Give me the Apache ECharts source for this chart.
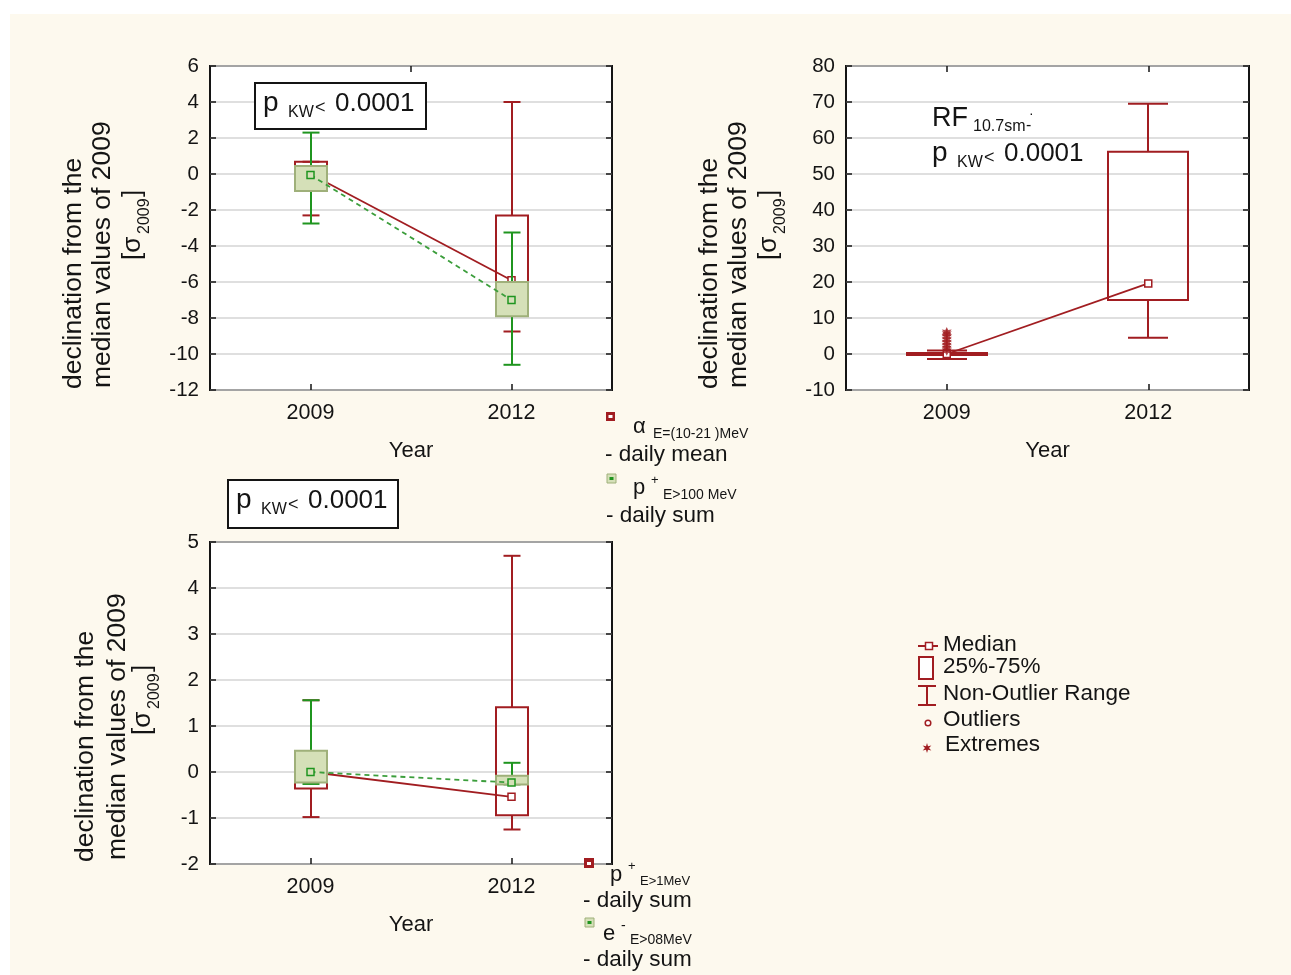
<!DOCTYPE html>
<html><head><meta charset="utf-8">
<script src="https://cdn.jsdelivr.net/npm/echarts@6/dist/echarts.min.js"></script>
<style>
html,body{margin:0;padding:0;background:#fff;}
#panel{position:absolute;left:10px;top:14px;width:1281px;height:961px;background:#fdf9ee;}
#chart{position:absolute;left:0;top:0;width:1291px;height:975px;}
</style>
</head><body><div id="panel"></div><div id="chart"></div>
<script>
// ---------------- data ----------------
const years = ['2009', '2012'];
// box statistics per year: [lower whisker, Q1 (25%), median, Q3 (75%), upper whisker]
const alphaDailyMean      = [[-2.3, -0.85, 0, 0.68, 0.68], [-8.75, -6.0, -5.9, -2.3, 4.0]];
const protonE100DailySum  = [[-2.75, -0.95, -0.05, 0.45, 2.3], [-10.6, -7.9, -7.0, -6.0, -3.25]];
const rf107               = [[-1.4, -0.3, 0, 0.3, 1.0], [4.5, 15.0, 19.6, 56.2, 69.5]];
const rfExtremes2009      = [0.9, 1.6, 2.4, 3.2, 4.0, 4.8, 5.6, 6.1];
const protonE1DailySum    = [[-0.98, -0.36, 0, 0.4, 1.56], [-1.25, -0.94, -0.54, 1.41, 4.7]];
const electronDailySum    = [[-0.26, -0.23, 0, 0.46, 1.56], [-0.27, -0.27, -0.23, -0.08, 0.2]];
// y-axis ranges: [min, max, interval]
const axisTL = [-12, 6, 2];
const axisTR = [-10, 80, 10];
const axisBL = [-2, 5, 1];

// ---------------- style ----------------
const FONT = "'Liberation Sans', Arial, sans-serif";
const INK = '#141414';
const RED = '#a11d21', GREEN = '#1f951f', GFILL = '#d5e0b8', GEDGE = '#9fb07a', GDASH = '#3c9e3c';
const grids = [
  {left: 210, top: 66, width: 402, height: 324},
  {left: 846, top: 66, width: 403, height: 324},
  {left: 210, top: 542, width: 402, height: 322}
];

function xAxes(gi, topMode) {
  const tick = {lineStyle: {color: INK, width: 1.5}, length: 6, inside: true};
  return [
    {type: 'category', gridIndex: gi, data: years, position: 'bottom', boundaryGap: true,
     axisLine: {show: false, onZero: false}, splitLine: {show: false},
     axisTick: Object.assign({show: true, alignWithLabel: true}, tick),
     axisLabel: {fontSize: 21.5, color: INK, margin: 12, fontFamily: FONT},
     name: 'Year', nameLocation: 'middle', nameGap: 50,
     nameTextStyle: {fontSize: 22, color: INK, fontFamily: FONT}},
    {type: 'category', gridIndex: gi, data: years, position: 'top', boundaryGap: true,
     axisLine: {show: false, onZero: false}, splitLine: {show: false}, axisLabel: {show: false},
     axisTick: Object.assign({show: topMode !== 'none', alignWithLabel: topMode === 'center'}, tick)}
  ];
}
function yAxes(gi, rng) {
  const tick = {show: true, inside: true, length: 6, lineStyle: {color: INK, width: 1.5}};
  return [
    {type: 'value', gridIndex: gi, min: rng[0], max: rng[1], interval: rng[2], position: 'left',
     axisLine: {show: false, onZero: false}, axisTick: tick,
     axisLabel: {fontSize: 20.5, color: INK, margin: 11, fontFamily: FONT, showMinLabel: true, showMaxLabel: true},
     splitLine: {show: true, lineStyle: {color: '#d4d4d4', width: 1.5}}},
    {type: 'value', gridIndex: gi, min: rng[0], max: rng[1], interval: rng[2], position: 'right',
     axisLine: {show: false, onZero: false}, axisTick: tick, axisLabel: {show: false}, splitLine: {show: false}}
  ];
}

function boxSeries(gi, stats, o) {
  return {
    type: 'custom', xAxisIndex: gi * 2, yAxisIndex: gi * 2, z: o.z, silent: true,
    data: stats.map((s, i) => [i].concat(s)),
    encode: {x: 0, y: [1, 2, 3, 4, 5]},
    renderItem: function (params, api) {
      const xi = api.value(0);
      const pL = api.coord([xi, api.value(1)]);
      const pQ1 = api.coord([xi, api.value(2)]);
      const pQ3 = api.coord([xi, api.value(4)]);
      const pH = api.coord([xi, api.value(5)]);
      const cx = Math.round(pL[0]);
      const bw = o.boxW, cw = o.capW;
      const ls = {stroke: o.whisker, lineWidth: 2};
      return {type: 'group', children: [
        {type: 'line', shape: {x1: cx, y1: pQ1[1], x2: cx, y2: pL[1]}, style: ls},
        {type: 'line', shape: {x1: cx, y1: pQ3[1], x2: cx, y2: pH[1]}, style: ls},
        {type: 'line', shape: {x1: cx - cw / 2, y1: pL[1], x2: cx + cw / 2, y2: pL[1]}, style: ls},
        {type: 'line', shape: {x1: cx - cw / 2, y1: pH[1], x2: cx + cw / 2, y2: pH[1]}, style: ls},
        {type: 'rect', shape: {x: cx - bw / 2, y: pQ3[1], width: bw, height: pQ1[1] - pQ3[1]},
         style: {fill: o.fill, stroke: o.edge, lineWidth: 2}}
      ]};
    }
  };
}
function medianLine(gi, stats, o) {
  return {
    type: 'line', xAxisIndex: gi * 2, yAxisIndex: gi * 2, z: o.z, silent: true,
    data: stats.map(s => s[2]),
    symbol: 'rect', symbolSize: 7, showSymbol: true,
    itemStyle: {color: o.fill, borderColor: o.stroke, borderWidth: 1.5},
    lineStyle: {color: o.line, width: 1.8, type: o.dash || 'solid'},
    emphasis: {disabled: true}, animation: false
  };
}
const redBox = {whisker: RED, edge: RED, fill: 'rgba(0,0,0,0)'};
const greenBox = {whisker: GREEN, edge: GEDGE, fill: GFILL};
const redMed = {fill: '#ffffff', stroke: RED, line: RED};
const greenMed = {fill: GFILL, stroke: GREEN, line: GDASH, dash: [5, 4]};

const series = [
  boxSeries(0, alphaDailyMean, Object.assign({z: 2, boxW: 32, capW: 17}, redBox)),
  medianLine(0, alphaDailyMean, Object.assign({z: 3}, redMed)),
  boxSeries(0, protonE100DailySum, Object.assign({z: 4, boxW: 32, capW: 17}, greenBox)),
  medianLine(0, protonE100DailySum, Object.assign({z: 5}, greenMed)),

  boxSeries(1, rf107, Object.assign({z: 2, boxW: 80, capW: 40}, redBox)),
  medianLine(1, rf107, Object.assign({z: 3}, redMed)),
  {type: 'scatter', xAxisIndex: 2, yAxisIndex: 2, z: 6, silent: true,
   data: rfExtremes2009.map(v => [0, v]),
   symbol: 'path://M0,-10L2.5,-4.3L8.7,-5L5,0L8.7,5L2.5,4.3L0,10L-2.5,4.3L-8.7,5L-5,0L-8.7,-5L-2.5,-4.3Z',
   symbolSize: 10, itemStyle: {color: RED}},

  boxSeries(2, protonE1DailySum, Object.assign({z: 2, boxW: 32, capW: 17}, redBox)),
  medianLine(2, protonE1DailySum, Object.assign({z: 3}, redMed)),
  boxSeries(2, electronDailySum, Object.assign({z: 4, boxW: 32, capW: 17}, greenBox)),
  medianLine(2, electronDailySum, Object.assign({z: 5}, greenMed))
];

// ---------------- text helpers ----------------
function T(x, base, s, size, extra) {
  return {type: 'text', x: x, y: base - 0.35 * size, silent: true, z: 20,
    style: Object.assign({text: s, fontSize: size, fontFamily: FONT, fill: INK,
      align: 'left', verticalAlign: 'middle'}, extra || {})};
}
function R(baseX, startY, s, size) {
  return {type: 'text', x: baseX - 0.35 * size, y: startY, rotation: Math.PI / 2, silent: true, z: 20,
    style: {text: s, fontSize: size, fontFamily: FONT, fill: INK, align: 'left', verticalAlign: 'middle'}};
}
function yTitle(b1, s1, b2, s2, b3, s3) {
  return [
    R(b1, s1, 'declination from the', 26.5),
    R(b2, s2, 'median values of 2009', 26.5),
    R(b3, s3, '[σ', 26),
    R(b3 + 8, s3 - 26, '2009', 16),
    R(b3, s3 - 63, ']', 26)
  ];
}
function pkw(x, base) {
  return [T(x, base, 'p', 28), T(x + 25, base + 5, 'KW', 16), T(x + 52, base + 1, '<', 18), T(x + 72, base, '0.0001', 26)];
}
function frameBox(x, y, w, h) {
  return {type: 'rect', z: 19, silent: true, shape: {x: x, y: y, width: w, height: h},
    style: {fill: '#ffffff', stroke: INK, lineWidth: 2}};
}
function rect(x, y, w, h, fill, stroke, lw) {
  return {type: 'rect', z: 20, silent: true, shape: {x: x, y: y, width: w, height: h},
    style: {fill: fill, stroke: stroke || null, lineWidth: lw || 0}};
}
function seg(x1, y1, x2, y2, c, w) {
  return {type: 'line', z: 20, silent: true, shape: {x1: x1, y1: y1, x2: x2, y2: y2}, style: {stroke: c, lineWidth: w || 2}};
}
function starPts(cx, cy, r1, r2, n) {
  const p = [];
  for (let i = 0; i < n * 2; i++) {
    const r = i % 2 ? r2 : r1, a = Math.PI * i / n - Math.PI / 2;
    p.push([cx + r * Math.cos(a), cy + r * Math.sin(a)]);
  }
  return p;
}

const graphics = [].concat(
  yTitle(83, 389, 112, 388, 142, 260),
  yTitle(719, 389, 748, 388, 778, 260),
  yTitle(95, 862, 127, 860, 152, 735),
  [frameBox(255, 83, 171, 46)], pkw(263, 113),
  [frameBox(228, 480, 170, 48)], pkw(236, 510),
  [T(932, 128, 'RF', 27), T(973, 132, '10.7sm', 16), T(1026, 131, '-', 16), T(1029, 119, '·', 14)],
  pkw(932, 163),
  [rect(606, 412, 9, 9, RED), rect(608.5, 415, 4, 3, '#ffffff')],
  [T(633, 435, 'α', 22), T(653, 439, 'E=(10-21 )MeV', 14), T(605, 463, '- daily mean', 22.5)],
  [rect(607, 474, 9, 9, GFILL, GEDGE, 1), rect(609.5, 477, 4, 3, GREEN)],
  [T(633, 496, 'p', 22), T(651, 485, '+', 13), T(663, 500, 'E>100 MeV', 14), T(606, 524, '- daily sum', 22.5)],
  [rect(584, 858, 10, 10, RED), rect(587, 862, 4, 3, '#ffffff')],
  [T(610, 883, 'p', 22), T(628, 871, '+', 13), T(640, 886, 'E>1MeV', 13), T(583, 909, '- daily sum', 22.5)],
  [rect(585, 918, 9, 9, GFILL, GEDGE, 1), rect(587.5, 921, 4, 3, GREEN)],
  [T(603, 942, 'e', 22), T(621, 931, '-', 14), T(630, 945, 'E>08MeV', 14), T(583, 968, '- daily sum', 22.5)],
  [seg(918, 646, 938, 646, RED, 2), rect(925.5, 642.5, 7, 7, '#ffffff', RED, 1.5), T(943, 653, 'Median', 22.5)],
  [rect(919, 657, 14, 22, '#ffffff', RED, 2), T(943, 675, '25%-75%', 22.5)],
  [seg(918, 686, 936, 686, RED, 2), seg(927, 686, 927, 705, RED, 2), seg(918, 705, 936, 705, RED, 2), T(943, 702, 'Non-Outlier Range', 22.5)],
  [{type: 'circle', z: 20, silent: true, shape: {cx: 928, cy: 723, r: 2.8}, style: {fill: '#ffffff', stroke: RED, lineWidth: 1.5}}, T(943, 728, 'Outliers', 22.5)],
  [{type: 'polygon', z: 20, silent: true, shape: {points: starPts(927, 748, 5, 2, 6)}, style: {fill: RED}}, T(945, 753, 'Extremes', 22.5)]
);

const option = {
  backgroundColor: 'transparent',
  animation: false,
  grid: grids.map(g => Object.assign({show: true, backgroundColor: '#ffffff', borderColor: INK, borderWidth: 2,
    containLabel: false, outerBoundsMode: 'none'}, g)),
  xAxis: [].concat(xAxes(0, 'boundary'), xAxes(1, 'center'), xAxes(2, 'none')),
  yAxis: [].concat(yAxes(0, axisTL), yAxes(1, axisTR), yAxes(2, axisBL)),
  series: series,
  graphic: graphics
};
const chart = echarts.init(document.getElementById('chart'), null, {renderer: 'canvas'});
chart.setOption(option);
</script>
</body></html>
